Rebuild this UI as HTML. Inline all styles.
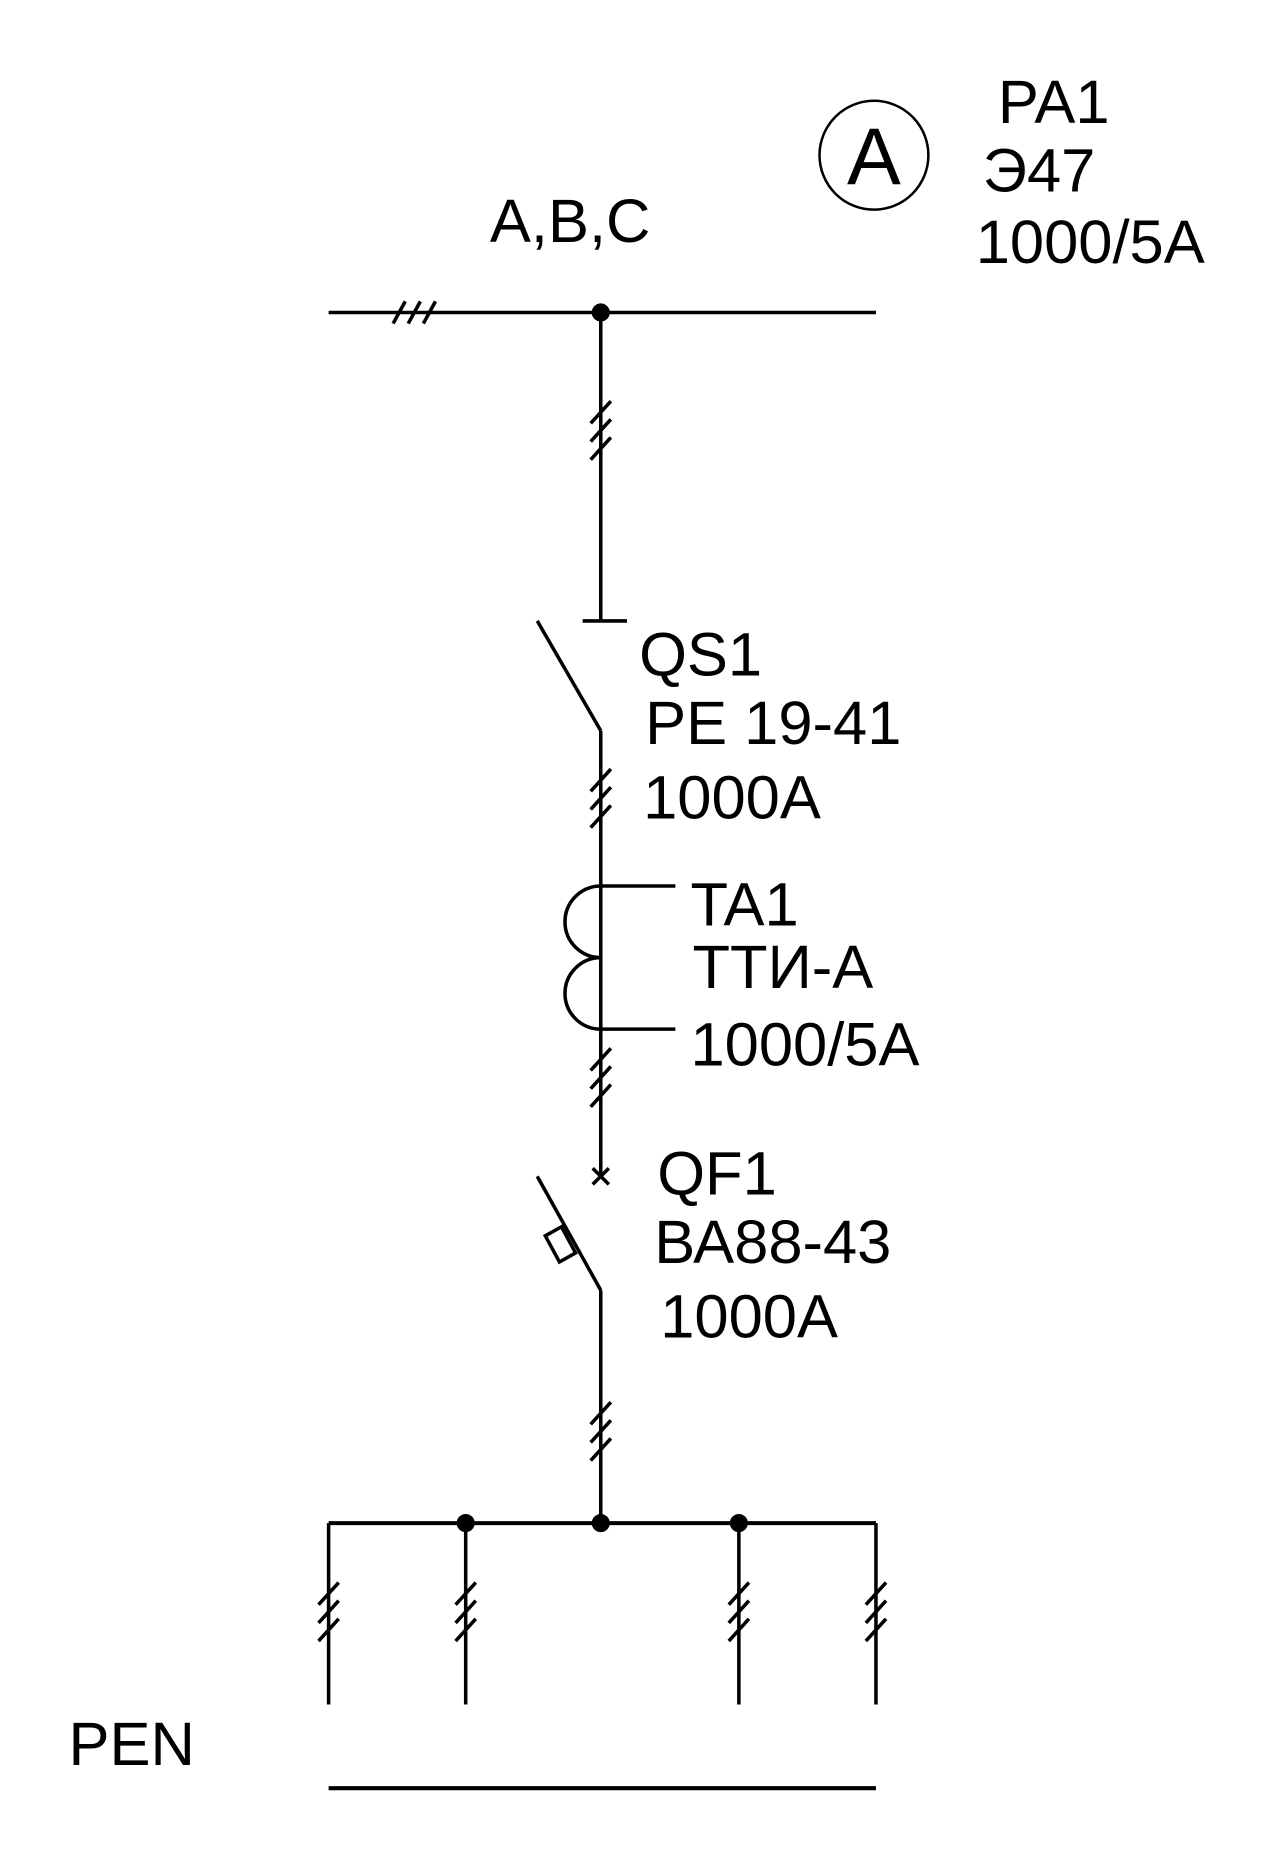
<!DOCTYPE html>
<html><head><meta charset="utf-8"><style>
html,body{margin:0;padding:0;background:#fff;}
svg{display:block;}
text{font-family:"Liberation Sans",sans-serif;fill:#000;}
</style></head><body>
<svg width="1280" height="1872" viewBox="0 0 1280 1872" xmlns="http://www.w3.org/2000/svg">
<defs>
<g id="t" stroke="#000" stroke-width="3.5"><line x1="-10" y1="10" x2="10" y2="-12"/><line x1="-10" y1="28" x2="10" y2="6"/><line x1="-10" y1="46" x2="10" y2="24"/></g>
</defs>
<g transform="scale(1.008)">
<g stroke="#000" stroke-width="3.5" fill="none" stroke-linecap="butt">
<line x1="326" y1="310" x2="869" y2="310"/>
<line x1="390" y1="321" x2="402" y2="299"/>
<line x1="405" y1="321" x2="417" y2="299"/>
<line x1="420" y1="321" x2="432" y2="299"/>
<line x1="596" y1="310" x2="596" y2="616"/>
<line x1="578" y1="616" x2="622" y2="616"/>
<line x1="533" y1="616" x2="596" y2="725"/>
<line x1="596" y1="725" x2="596" y2="1167"/>
<line x1="596" y1="879" x2="670" y2="879"/>
<line x1="596" y1="1021" x2="670" y2="1021"/>
<path d="M596 879 A35 35 0 0 0 596 950 A35 35 0 0 0 596 1021"/>
<line x1="588" y1="1159" x2="604" y2="1175"/>
<line x1="604" y1="1159" x2="588" y2="1175"/>
<line x1="533" y1="1167" x2="596" y2="1280"/>
<line x1="596" y1="1280" x2="596" y2="1511"/>
<polygon points="541,1226 557,1217 571,1243 555,1252"/>
<line x1="326" y1="1511" x2="869" y2="1511" stroke-width="4"/>
<line x1="326" y1="1511" x2="326" y2="1691"/>
<line x1="462" y1="1511" x2="462" y2="1691"/>
<line x1="733" y1="1511" x2="733" y2="1691"/>
<line x1="869" y1="1511" x2="869" y2="1691"/>
<line x1="326" y1="1774" x2="869" y2="1774" stroke-width="4"/>
<circle cx="867" cy="154" r="54" stroke-width="2.5"/>
</g>
<use href="#t" x="596" y="410"/>
<use href="#t" x="596" y="775"/>
<use href="#t" x="596" y="1052"/>
<use href="#t" x="596" y="1403"/>
<use href="#t" x="326" y="1582"/>
<use href="#t" x="462" y="1582"/>
<use href="#t" x="733" y="1582"/>
<use href="#t" x="869" y="1582"/>
<g fill="#000">
<circle cx="596" cy="310" r="9"/>
<circle cx="462" cy="1511" r="9"/>
<circle cx="596" cy="1511" r="9"/>
<circle cx="733" cy="1511" r="9"/>
</g>
<g font-size="61">
<text x="486" y="240">A,B,C</text>
<text x="867" y="183" font-size="80" text-anchor="middle">A</text>
<text x="990" y="122">PA1</text>
<text x="975" y="190">Э47</text>
<text x="968" y="261">1000/5A</text>
<text x="634" y="670">QS1</text>
<text x="640" y="738">PE 19-41</text>
<text x="638" y="812">1000A</text>
<text x="685" y="918">TA1</text>
<text x="687" y="980">ТТИ-А</text>
<text x="685" y="1057">1000/5A</text>
<text x="652" y="1185">QF1</text>
<text x="649" y="1253">ВА88-43</text>
<text x="655" y="1327">1000A</text>
<text x="68" y="1751">PEN</text>
</g>
</g>
</svg>
</body></html>
